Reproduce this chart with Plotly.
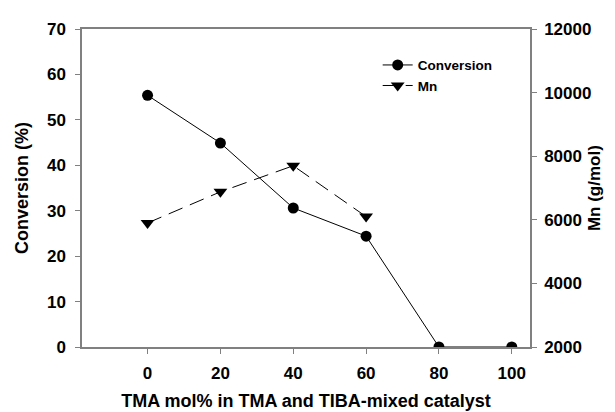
import plotly.graph_objects as go

tma_pct = [0, 20, 40, 60, 80, 100]
conversion = [55.4, 44.9, 30.6, 24.4, 0.0, 0.0]
mn_x = [0, 20, 40, 60]
mn_values = [5900, 6880, 7700, 6100]

FONT = "Liberation Sans, Arial, sans-serif"
AX = "#808080"

fig = go.Figure()
fig.add_trace(go.Scatter(
    x=tma_pct, y=conversion, name="<b>Conversion</b>", mode="lines+markers",
    line=dict(color="black", width=1),
    marker=dict(symbol="circle", size=11, color="black"),
))
fig.add_trace(go.Scatter(
    x=mn_x, y=mn_values, name="<b>Mn</b>", mode="lines+markers", yaxis="y2",
    line=dict(color="black", width=1, dash="15px,8px"),
    marker=dict(symbol="triangle-down", size=12, color="black"),
))

tickfont = dict(family=FONT, size=17, color="black")
titlefont = dict(family=FONT, size=18, color="black")

fig.update_layout(
    width=615, height=412,
    margin=dict(l=71, r=93, t=17, b=69),
    paper_bgcolor="white", plot_bgcolor="white",
    font=dict(family=FONT, color="black"),
    showlegend=True,
    legend=dict(x=0.66, y=0.935, xanchor="left", yanchor="top",
                bgcolor="rgba(0,0,0,0)", font=dict(family=FONT, size=13.5, color="black"),
                tracegroupgap=0, itemwidth=30),
    xaxis=dict(range=[-18, 105], tickvals=[0, 20, 40, 60, 80, 100],
               ticktext=["<b>%d</b>" % v for v in [0, 20, 40, 60, 80, 100]],
               showgrid=False, zeroline=False, showline=True, linecolor=AX, linewidth=1.5,
               mirror=True, ticks="outside", ticklen=5, tickcolor=AX, tickwidth=1,
               tickfont=tickfont, ticklabelstandoff=5,
               title=dict(text="<b>TMA mol% in TMA and TIBA-mixed catalyst</b>", font=titlefont, standoff=12)),
    yaxis=dict(range=[0, 70], tickvals=[0, 10, 20, 30, 40, 50, 60, 70],
               ticktext=["<b>%d</b>" % v for v in range(0, 80, 10)],
               showgrid=False, zeroline=False, showline=True, linecolor=AX, linewidth=1.5,
               ticks="outside", ticklen=5, tickcolor=AX, tickwidth=1, tickfont=tickfont,
               ticklabelstandoff=6,
               title=dict(text="<b>Conversion (%)</b>", font=titlefont, standoff=14)),
    yaxis2=dict(range=[2000, 12000], tickvals=[2000, 4000, 6000, 8000, 10000, 12000],
                ticktext=["<b>%d</b>" % v for v in range(2000, 14000, 2000)],
                overlaying="y", side="right",
                showgrid=False, zeroline=False, showline=True, linecolor=AX, linewidth=1.5,
                ticks="outside", ticklen=5, tickcolor=AX, tickwidth=1, tickfont=tickfont,
                ticklabelstandoff=4),
    annotations=[dict(text="<b>Mn (g/mol)</b>", xref="paper", yref="paper",
                      x=1.143, y=0.5, xanchor="center", yanchor="middle",
                      textangle=-90, showarrow=False, font=dict(family=FONT, size=17, color="black"))],
)

fig.write_html("out.html")
